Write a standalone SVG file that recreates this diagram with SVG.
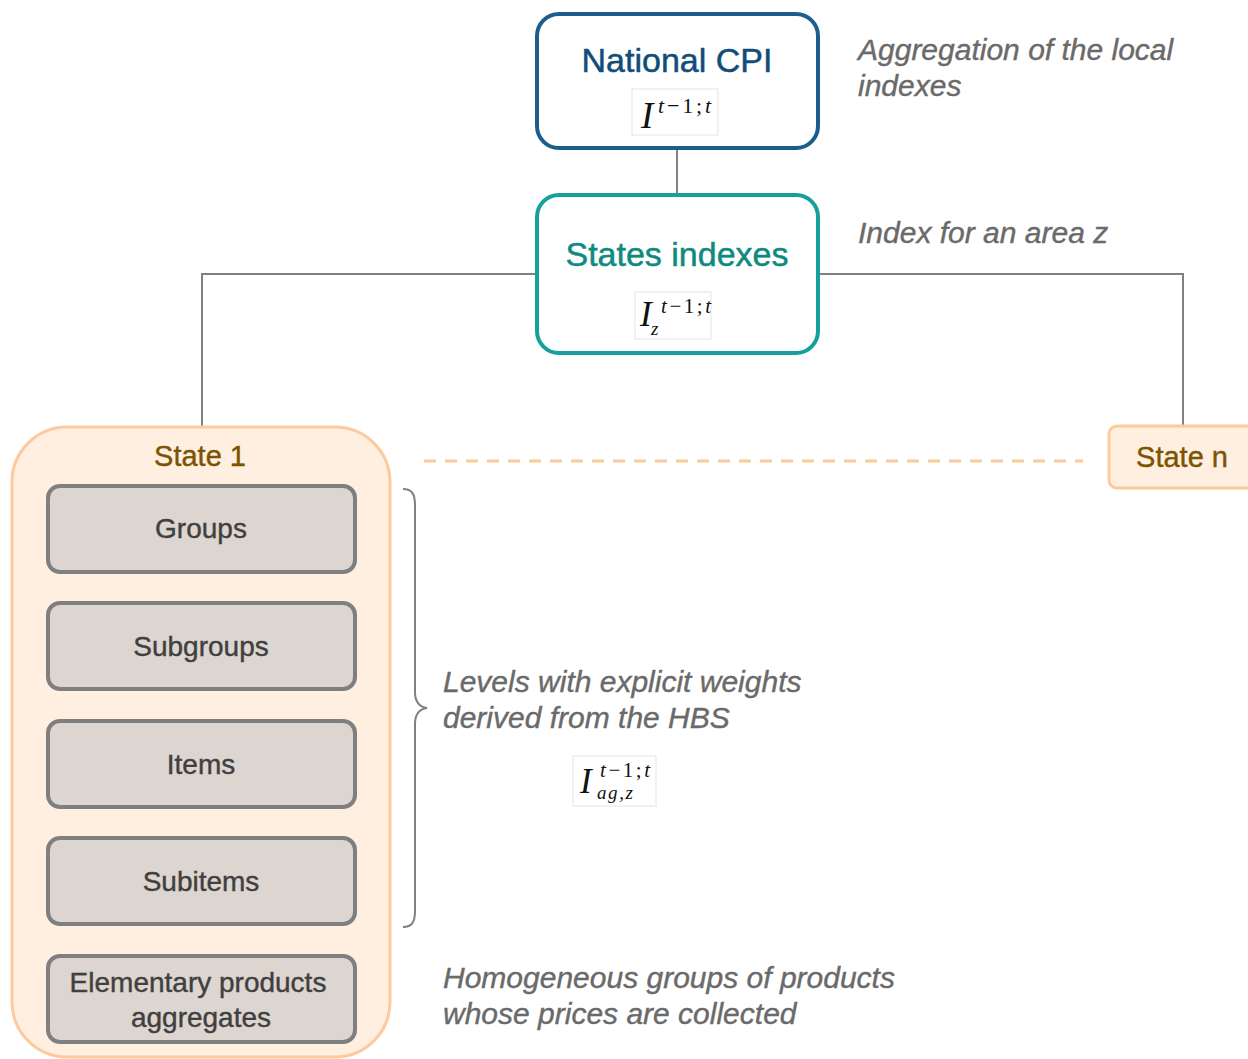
<svg xmlns="http://www.w3.org/2000/svg" width="1248" height="1059" viewBox="0 0 1248 1059">
<defs>
<style>
.sans{font-family:"Liberation Sans",Arial,sans-serif}
.note{font-family:"Liberation Sans",Arial,sans-serif;font-style:italic;font-size:30px;fill:#6a6a6a;stroke:#6a6a6a;stroke-width:0.4}
.math{font-family:"Liberation Serif","Times New Roman",serif;font-style:italic;fill:#111}
.mathr{font-style:normal}
.fbox{fill:#fff;stroke:#e4e4e4;stroke-width:1}
.lvl{fill:#ddd5cf;stroke:#7f7f7f;stroke-width:4}
.lvlt{font-family:"Liberation Sans",Arial,sans-serif;font-size:28px;fill:#404040;stroke:#404040;stroke-width:0.4;text-anchor:middle}
.conn{fill:none;stroke:#808080;stroke-width:2}
.state{fill:#feefe1;stroke:#fcca9c;stroke-width:3}
.statet{font-family:"Liberation Sans",Arial,sans-serif;font-size:29px;fill:#7d5300;stroke:#7d5300;stroke-width:0.4;text-anchor:middle}
</style>
</defs>
<rect width="1248" height="1059" fill="#fff"/>

<g id="connectors">
<line class="conn" x1="677" y1="148" x2="677" y2="196"/>
<polyline class="conn" points="537,274 202,274 202,428"/>
<polyline class="conn" points="818,274 1183,274 1183,426"/>
<line x1="424" y1="461" x2="1083" y2="461" stroke="#fcca9c" stroke-width="3" stroke-dasharray="12 9"/>
<path class="conn" d="M403,489 C412,489 415,494 415,505 L415,692 C415,702 420,707 427,708 C420,709 415,714 415,724 L415,911 C415,922 412,927 403,927" stroke-width="1.6"/>
</g>

<g id="national-cpi">
<rect x="537" y="14" width="281" height="134" rx="22" fill="#fff" stroke="#1b5e8c" stroke-width="4"/>
<text class="sans" x="677" y="72" font-size="34" fill="#114d78" stroke="#114d78" stroke-width="0.5" text-anchor="middle">National CPI</text>
<rect class="fbox" x="632" y="89" width="86" height="46"/>
<text class="math" x="641" y="128" font-size="37">I</text>
<text class="math" x="658" y="113" font-size="22" textLength="53" lengthAdjust="spacing">t<tspan class="mathr">−1;</tspan>t</text>
</g>

<g id="states-indexes">
<rect x="537" y="195" width="281" height="158" rx="22" fill="#fff" stroke="#16a09b" stroke-width="4"/>
<text class="sans" x="677" y="266" font-size="34" fill="#0f8a80" stroke="#0f8a80" stroke-width="0.5" text-anchor="middle">States indexes</text>
<rect class="fbox" x="635" y="292" width="76" height="47"/>
<text class="math" x="640" y="326" font-size="35">I</text>
<text class="math" x="661" y="313" font-size="21" textLength="50" lengthAdjust="spacing">t<tspan class="mathr">−1;</tspan>t</text>
<text class="math" x="651" y="335" font-size="19">z</text>
</g>

<g id="state-1">
<rect class="state" x="12" y="427" width="378" height="630" rx="55"/>
<text class="statet" x="200" y="466">State 1</text>
</g>

<g id="groups">
<rect class="lvl" x="48" y="486" width="307" height="86" rx="12"/>
<text class="lvlt" x="201" y="538">Groups</text>
</g>
<g id="subgroups">
<rect class="lvl" x="48" y="603" width="307" height="86" rx="12"/>
<text class="lvlt" x="201" y="656">Subgroups</text>
</g>
<g id="items">
<rect class="lvl" x="48" y="721" width="307" height="86" rx="12"/>
<text class="lvlt" x="201" y="774">Items</text>
</g>
<g id="subitems">
<rect class="lvl" x="48" y="838" width="307" height="86" rx="12"/>
<text class="lvlt" x="201" y="891">Subitems</text>
</g>
<g id="elementary">
<rect class="lvl" x="48" y="956" width="307" height="86" rx="12"/>
<text class="lvlt" x="198" y="992">Elementary products</text>
<text class="lvlt" x="201" y="1027">aggregates</text>
</g>

<g id="state-n">
<rect class="state" x="1109" y="426" width="150" height="62" rx="8"/>
<text class="statet" x="1182" y="467">State n</text>
</g>

<g id="annotations">
<text class="note" x="858" y="60">Aggregation of the local</text>
<text class="note" x="858" y="96">indexes</text>
<text class="note" x="858" y="243">Index for an area z</text>
<text class="note" x="443" y="692">Levels with explicit weights</text>
<text class="note" x="443" y="728">derived from the HBS</text>
<text class="note" x="443" y="988">Homogeneous groups of products</text>
<text class="note" x="443" y="1024">whose prices are collected</text>
</g>

<g id="formula-ag">
<rect class="fbox" x="573" y="756" width="83" height="50"/>
<text class="math" x="580" y="793" font-size="35">I</text>
<text class="math" x="600" y="777" font-size="21" textLength="50" lengthAdjust="spacing">t<tspan class="mathr">−1;</tspan>t</text>
<text class="math" x="597" y="799" font-size="19" textLength="36" lengthAdjust="spacing">ag,z</text>
</g>
</svg>
